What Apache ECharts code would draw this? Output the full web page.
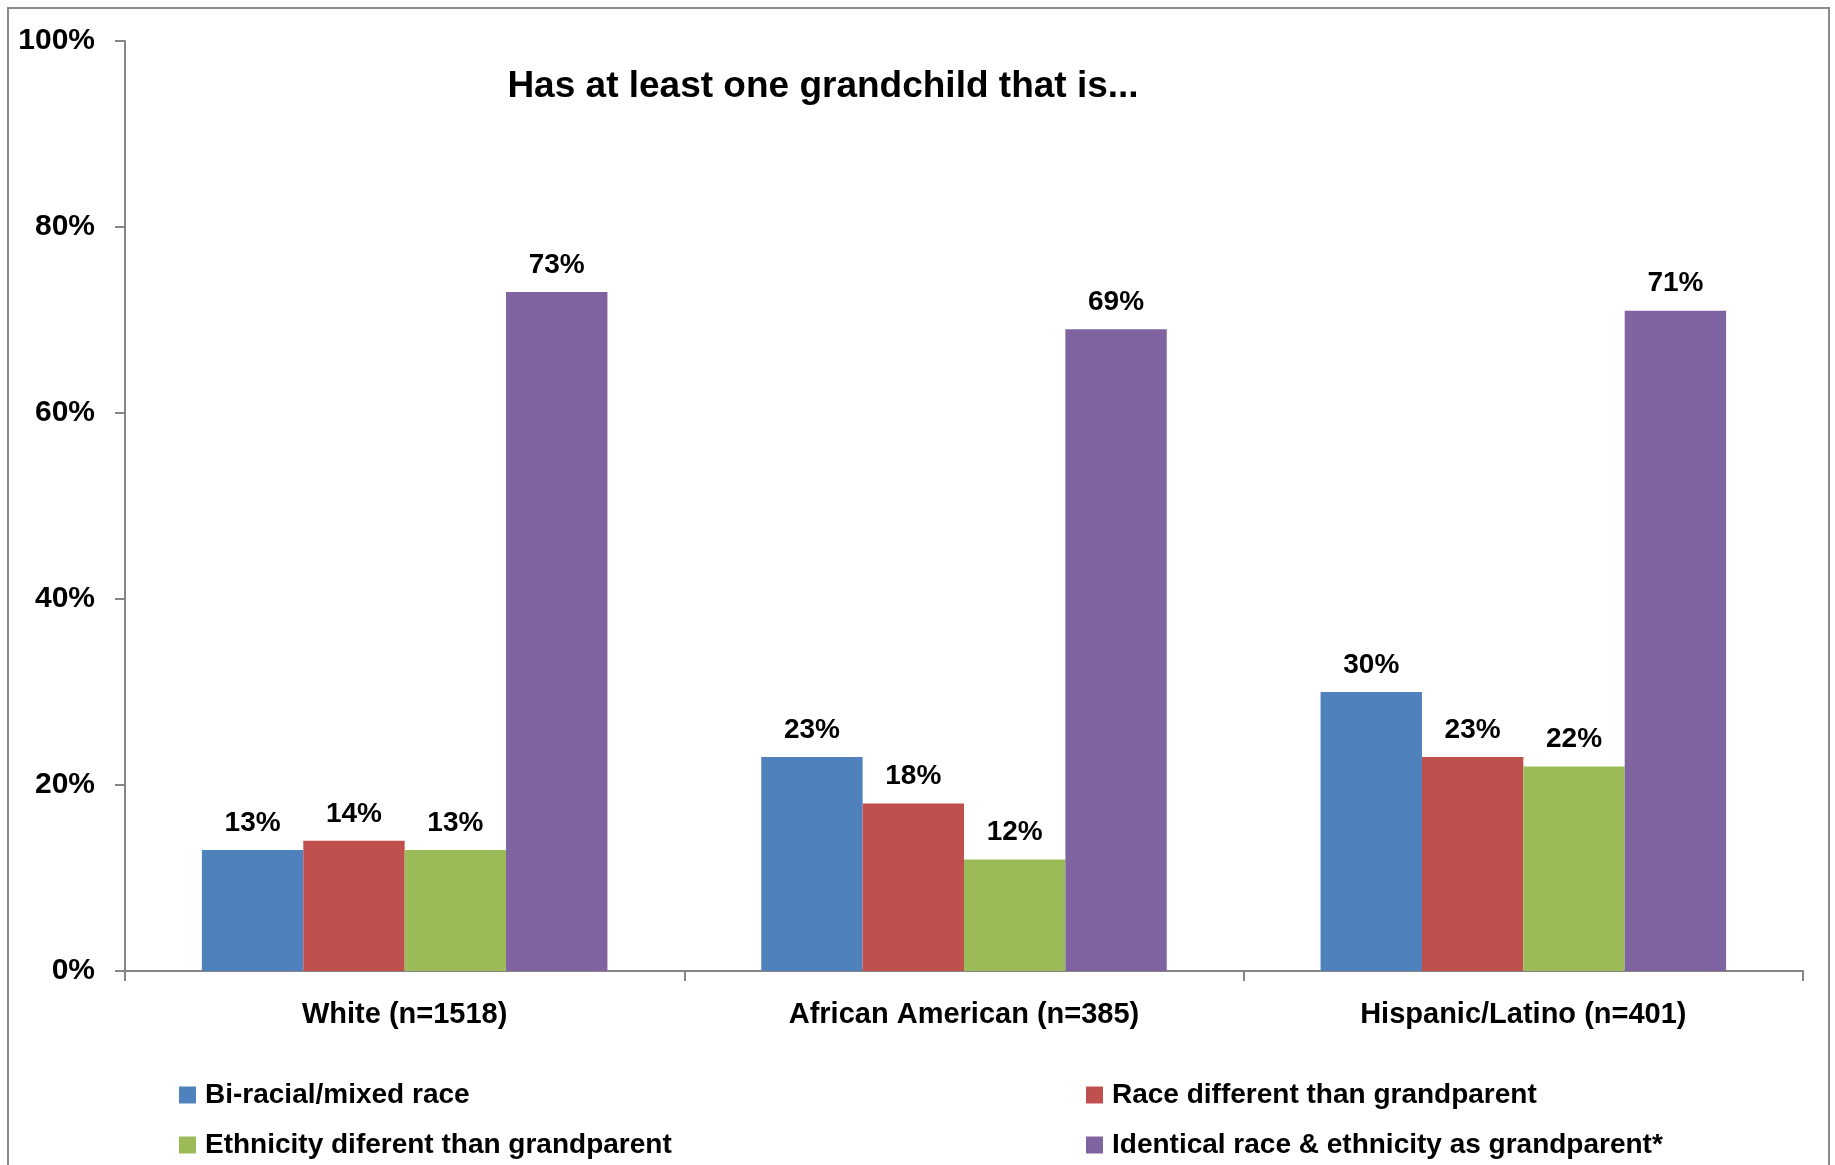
<!DOCTYPE html>
<html>
<head>
<meta charset="utf-8">
<script src="https://cdn.jsdelivr.net/npm/echarts@6/dist/echarts.min.js"></script>
<style>
html,body{margin:0;padding:0;background:#fff;}
#chart{width:1835px;height:1165px;}
</style>
</head>
<body>
<div id="chart"></div>
<script>
const categories = ['White (n=1518)', 'African American (n=385)', 'Hispanic/Latino (n=401)'];
const seriesNames = ['Bi-racial/mixed race', 'Race different than grandparent', 'Ethnicity diferent than grandparent', 'Identical race & ethnicity as grandparent*'];
const biracial = [13, 23, 30];
const raceDiff = [14, 18, 23];
const ethnicityDiff = [13, 12, 22];
const identical = [73, 69, 71];
const colors = ['#4F81BD', '#C0504D', '#9BBB59', '#8064A2'];
const yTicks = [0, 20, 40, 60, 80, 100];

const FONT = "'Liberation Sans', Arial, sans-serif";
const values = [biracial, raceDiff, ethnicityDiff, identical];
const legendPos = [[174, 1075], [1081, 1075], [174, 1125], [1081, 1125]];

const chart = echarts.init(document.getElementById('chart'), null, {renderer: 'canvas'});
chart.setOption({
  animation: false,
  backgroundColor: '#fff',
  textStyle: {fontFamily: FONT},
  title: {
    text: 'Has at least one grandchild that is...',
    left: 818, top: 63, textAlign: 'center',
    textStyle: {fontFamily: FONT, fontSize: 37, fontWeight: 'bold', color: '#000'}
  },
  graphic: [{
    type: 'rect', silent: true, z: -1,
    shape: {x: 8, y: 8, width: 1821, height: 1200},
    style: {fill: null, stroke: '#8a8a8a', lineWidth: 2}
  }],
  grid: {left: 125, right: 32, top: 41, bottom: 194, containLabel: false},
  legend: seriesNames.map((n, i) => ({
    data: [n],
    left: legendPos[i][0], top: legendPos[i][1],
    itemWidth: 17, itemHeight: 17, icon: 'rect', itemGap: 10,
    textStyle: {fontFamily: FONT, fontSize: 28, fontWeight: 'bold', color: '#000', lineHeight: 30, padding: [0, 0, 0, 4]}
  })),
  xAxis: {
    type: 'category', data: categories, boundaryGap: true,
    axisLine: {lineStyle: {color: '#868686', width: 2}},
    axisTick: {show: true, length: 10, lineStyle: {color: '#868686', width: 2}},
    axisLabel: {margin: 29, fontFamily: FONT, fontSize: 29, fontWeight: 'bold', color: '#000'}
  },
  yAxis: {
    type: 'value', min: 0, max: 100, interval: 20,
    axisLine: {show: true, lineStyle: {color: '#868686', width: 2}},
    axisTick: {show: true, length: 10, lineStyle: {color: '#868686', width: 2}},
    splitLine: {show: false},
    axisLabel: {margin: 30, formatter: v => yTicks.includes(v) ? v + '%' : '', fontFamily: FONT, fontSize: 30, fontWeight: 'bold', color: '#000'}
  },
  series: values.map((vals, i) => ({
    name: seriesNames[i], type: 'bar', data: vals,
    barGap: '0%', barCategoryGap: '27.5%',
    itemStyle: {color: colors[i]},
    label: {show: true, position: 'top', distance: 13, formatter: '{c}%',
            fontFamily: FONT, fontSize: 28, fontWeight: 'bold', color: '#000'}
  }))
});
</script>
</body>
</html>
